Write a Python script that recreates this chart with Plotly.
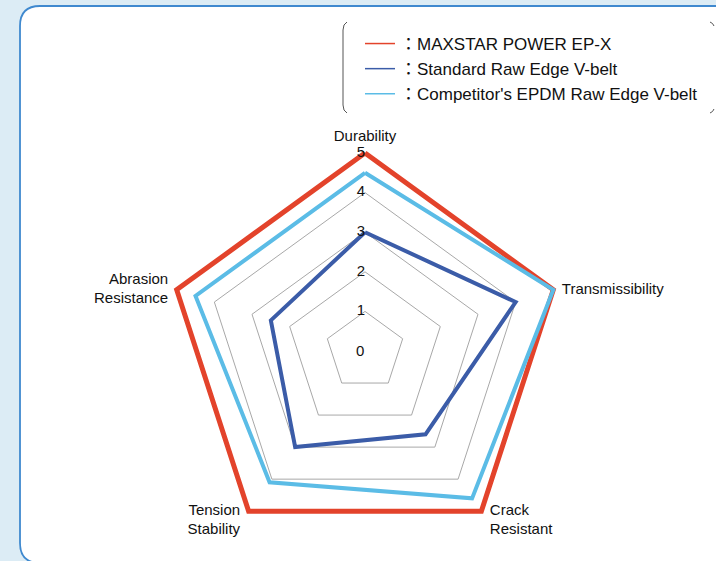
import plotly.graph_objects as go

categories = ["Durability", "Transmissibility", "Crack Resistant", "Tension Stability", "Abrasion Resistance"]
axis_labels = ["Durability", "Transmissibility", "<br>Crack<br>Resistant", "<br>Tension<br>Stability", "Abrasion<br>Resistance"]
label_positions = ["top center", "middle right", "middle right", "middle left", "middle left"]
maxstar = [5, 5, 5, 5, 5]
standard = [3, 4, 2.6, 3, 2.5]
competitor = [4.5, 5, 4.6, 4.1, 4.5]
series_names = ["：MAXSTAR POWER EP-X", "：Standard Raw Edge V-belt", "：Competitor's EPDM Raw Edge V-belt"]
series_colors = ["#e3432b", "#3b5ca8", "#5bbce6"]
series_widths = [5, 4, 4]
radial_ticks = [0, 1, 2, 3, 4, 5]

W, H = 716, 561
def px(x):
    return x / W
def py(y):
    return 1 - y / H

FONT = "Liberation Sans, Arial, Noto Sans CJK JP, sans-serif"
TXT = dict(family=FONT, size=15, color="#111")

fig = go.Figure()

def closed(v):
    return list(v) + [v[0]]

theta_c = closed(categories)
for vals, name, color, w in zip([maxstar, standard, competitor], series_names, series_colors, series_widths):
    fig.add_trace(go.Scatterpolar(
        r=closed(vals), theta=theta_c, mode="lines",
        line=dict(color=color, width=w), showlegend=False, cliponaxis=False,
        hoverinfo="skip"))

# legend-only entries with thin line samples
for i, (name, color) in enumerate(zip(series_names, series_colors)):
    fig.add_trace(go.Scatterpolar(
        r=[None], theta=[categories[0]], mode="lines", name=name,
        line=dict(color=color, width=1.5), legendgroup=str(i), showlegend=True))

# radial tick labels on the top axis (the centre one is an annotation at the pole)
fig.add_trace(go.Scatterpolar(
    r=radial_ticks[1:], theta=[categories[0]] * (len(radial_ticks) - 1), mode="text",
    text=[str(t) for t in radial_ticks[1:]], textposition="middle left",
    textfont=TXT, showlegend=False, cliponaxis=False, hoverinfo="skip"))

# category labels just outside the outer ring
fig.add_trace(go.Scatterpolar(
    r=[max(radial_ticks)] * len(categories), theta=categories, mode="text+markers",
    text=axis_labels, textposition=label_positions,
    marker=dict(size=12, color="rgba(0,0,0,0)"),
    textfont=TXT, showlegend=False, cliponaxis=False, hoverinfo="skip"))

RMAX = 5.12
RMIN = 0
cx, cy, R5 = 365, 351, 198
RD = R5 * (RMAX - RMIN) / (5 - RMIN)
fig.update_layout(
    width=W, height=H,
    margin=dict(l=0, r=0, t=0, b=0),
    paper_bgcolor="#dcecf5",
    plot_bgcolor="rgba(0,0,0,0)",
    font=dict(family=FONT, size=15, color="#111"),
    polar=dict(
        domain=dict(x=[px(cx - RD), px(cx + RD)], y=[py(cy + RD), py(cy - RD)]),
        bgcolor="rgba(0,0,0,0)",
        gridshape="linear",
        radialaxis=dict(range=[RMIN, RMAX], tickvals=radial_ticks, showticklabels=False,
                        ticks="", showline=False, gridcolor="#a8a8a8", gridwidth=1),
        angularaxis=dict(direction="clockwise", rotation=90, showgrid=False,
                         showline=False, ticks="", showticklabels=False),
    ),
    annotations=[dict(x=px(cx + 1), y=py(cy), xref="paper", yref="paper",
                      text=str(radial_ticks[0]), showarrow=False,
                      xanchor="right", yanchor="middle", font=TXT)],
    legend=dict(x=px(360), y=py(26), xanchor="left", yanchor="top",
                bgcolor="rgba(0,0,0,0)", font=dict(family=FONT, size=17, color="#111"),
                traceorder="grouped", tracegroupgap=0, itemclick=False),
    shapes=[
        dict(type="path", xref="paper", yref="paper", layer="below",
             path=(f"M {px(720)},{py(6)} L {px(40)},{py(6)} Q {px(20)},{py(6)} {px(20)},{py(26)} "
                   f"L {px(20)},{py(543)} Q {px(20)},{py(563)} {px(40)},{py(563)} L {px(720)},{py(563)} Z"),
             fillcolor="white", line=dict(color="#3f89cf", width=1.8)),
        dict(type="path", xref="paper", yref="paper", layer="above",
             path=(f"M {px(347)},{py(22)} Q {px(343)},{py(24)} {px(343)},{py(30)} L {px(343)},{py(105)} "
                   f"Q {px(343)},{py(111)} {px(347)},{py(113)}"),
             line=dict(color="#555", width=1)),
        dict(type="path", xref="paper", yref="paper", layer="above",
             path=f"M {px(710)},{py(22)} Q {px(713)},{py(23)} {px(714)},{py(26)}",
             line=dict(color="#555", width=1)),
        dict(type="path", xref="paper", yref="paper", layer="above",
             path=f"M {px(710)},{py(113)} Q {px(713)},{py(112)} {px(714)},{py(109)}",
             line=dict(color="#555", width=1)),
    ],
)

fig.write_html("out.html", config={"displayModeBar": False},
               post_script="document.body.style.margin='0';document.body.style.background='#dcecf5';document.body.style.overflow='hidden';")
